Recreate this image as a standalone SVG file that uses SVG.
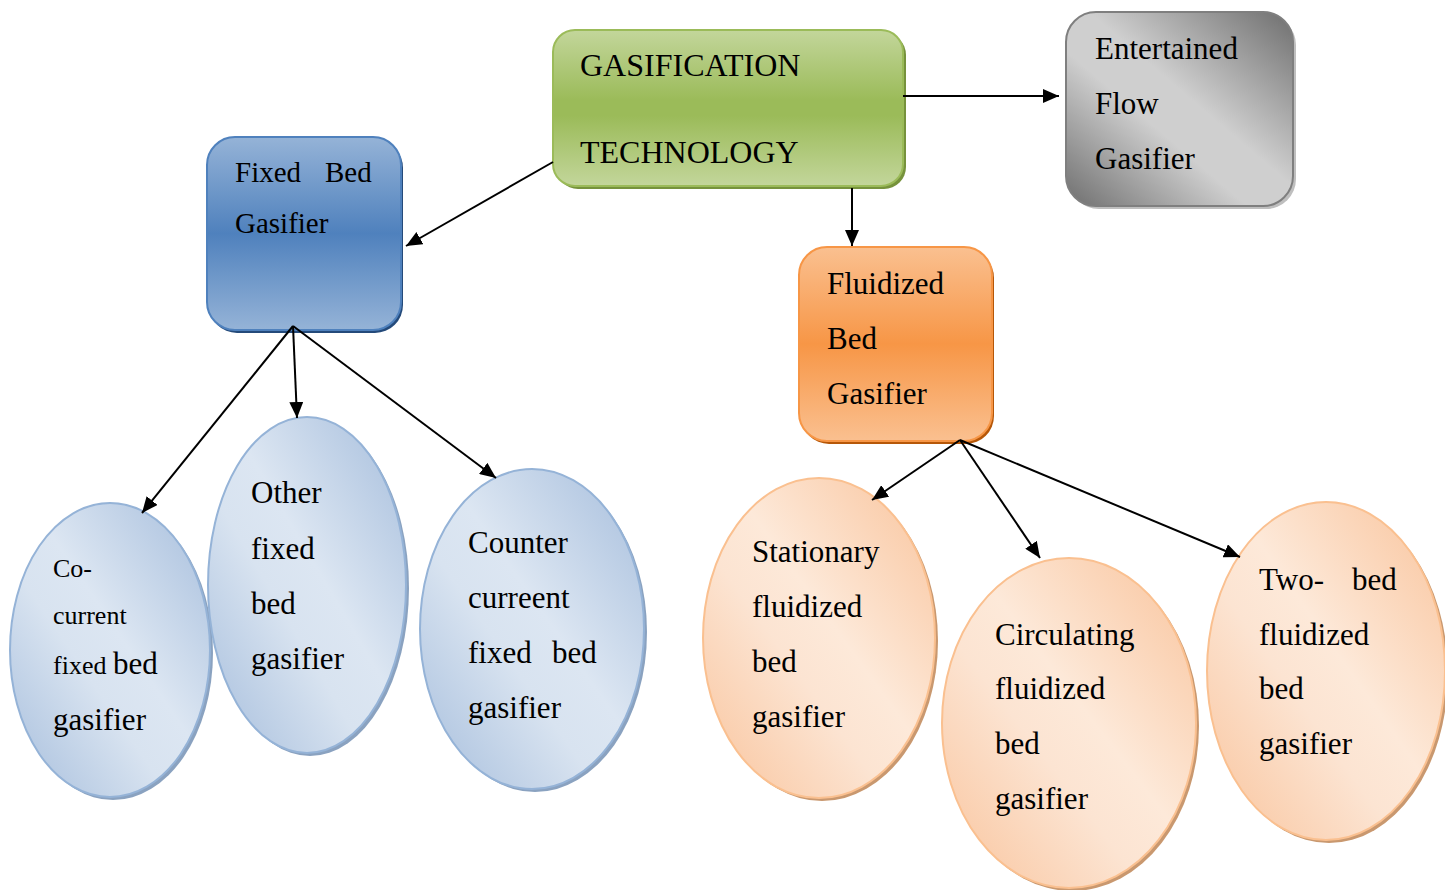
<svg xmlns="http://www.w3.org/2000/svg" width="1445" height="890" viewBox="0 0 1445 890">
<defs>
<style>
text{font-family:"Liberation Serif","Times New Roman",serif;fill:#000;}
.t31{font-size:31px;}
.t32{font-size:32px;}
.t29{font-size:29px;}
.t26{font-size:26px;}
.conn line{stroke:#000;stroke-width:2;marker-end:url(#ah);}
.eb{stroke:#95b3d7;stroke-width:2;fill:url(#gBlueE);}
.eo{stroke:#fac090;stroke-width:2;fill:url(#gOrE);}
.esb{fill:#8aa2c0;}
.eso{fill:#c9986f;}
</style>
<marker id="ah" markerUnits="userSpaceOnUse" markerWidth="18" markerHeight="14" refX="16" refY="7" orient="auto">
<path d="M0,0 L16,7 L0,14 z" fill="#000"/>
</marker>
<linearGradient id="gGreen" x1="0" y1="0" x2="0" y2="1">
<stop offset="0" stop-color="#c3d69b"/>
<stop offset="0.45" stop-color="#9bbb59"/>
<stop offset="0.55" stop-color="#9bbb59"/>
<stop offset="1" stop-color="#c3d69b"/>
</linearGradient>
<linearGradient id="gBlue" x1="0" y1="0" x2="0" y2="1">
<stop offset="0" stop-color="#95b3d7"/>
<stop offset="0.5" stop-color="#4f81bd"/>
<stop offset="1" stop-color="#95b3d7"/>
</linearGradient>
<linearGradient id="gOrange" x1="0" y1="0" x2="0" y2="1">
<stop offset="0" stop-color="#fac090"/>
<stop offset="0.5" stop-color="#f79646"/>
<stop offset="1" stop-color="#fac090"/>
</linearGradient>
<linearGradient id="gGray" x1="1" y1="0" x2="0" y2="1">
<stop offset="0" stop-color="#6e6e6e"/>
<stop offset="0.45" stop-color="#cfcfcf"/>
<stop offset="0.6" stop-color="#cfcfcf"/>
<stop offset="1" stop-color="#6e6e6e"/>
</linearGradient>
<linearGradient id="gBlueE" x1="1" y1="0" x2="0" y2="1">
<stop offset="0" stop-color="#a5bddc"/>
<stop offset="0.45" stop-color="#dce6f2"/>
<stop offset="0.6" stop-color="#d8e3f0"/>
<stop offset="1" stop-color="#a5bddc"/>
</linearGradient>
<linearGradient id="gOrE" x1="1" y1="0" x2="0" y2="1">
<stop offset="0" stop-color="#f9c39b"/>
<stop offset="0.45" stop-color="#fde9d9"/>
<stop offset="0.6" stop-color="#fce4d2"/>
<stop offset="1" stop-color="#f9c39b"/>
</linearGradient>
</defs>

<g id="gasification">
<rect x="556" y="33" width="350" height="156" rx="22" fill="#76923c"/>
<rect x="553" y="30" width="350" height="156" rx="22" fill="url(#gGreen)" stroke="#9bbb59" stroke-width="2"/>
<text class="t32" x="580" y="76">GASIFICATION</text>
<text class="t32" x="580" y="163">TECHNOLOGY</text>
</g>

<g id="entrained">
<rect x="1069" y="15" width="227" height="194" rx="30" fill="#bfbfbf"/>
<rect x="1066" y="12" width="227" height="194" rx="30" fill="url(#gGray)" stroke="#7f7f7f" stroke-width="2"/>
<text class="t31" x="1095" y="59">Entertained</text>
<text class="t31" x="1095" y="114">Flow</text>
<text class="t31" x="1095" y="169">Gasifier</text>
</g>

<g id="fixedbed">
<rect x="209" y="140" width="194" height="193" rx="28" fill="#244a7a"/>
<rect x="207" y="137" width="194" height="193" rx="28" fill="url(#gBlue)" stroke="#4f81bd" stroke-width="2"/>
<text class="t29" x="235" y="182">Fixed <tspan x="325">Bed</tspan></text>
<text class="t29" x="235" y="233">Gasifier</text>
</g>

<g id="fluidized">
<rect x="801" y="250" width="193" height="194" rx="28" fill="#b65708"/>
<rect x="799" y="247" width="193" height="194" rx="28" fill="url(#gOrange)" stroke="#f79646" stroke-width="2"/>
<text class="t31" x="827" y="294">Fluidized</text>
<text class="t31" x="827" y="349">Bed</text>
<text class="t31" x="827" y="404">Gasifier</text>
</g>

<g id="cocurrent">
<ellipse class="esb" cx="113" cy="653" rx="100" ry="147"/>
<ellipse class="eb" cx="110" cy="650" rx="100" ry="147"/>
<text class="t26" x="53" y="577">Co-</text>
<text class="t26" x="53" y="624">current</text>
<text x="53" y="674"><tspan class="t26">fixed </tspan><tspan class="t31">bed</tspan></text>
<text class="t31" x="53" y="730">gasifier</text>
</g>

<g id="otherfixed">
<ellipse class="esb" cx="310" cy="588" rx="99" ry="168"/>
<ellipse class="eb" cx="307" cy="585" rx="99" ry="168"/>
<text class="t31" x="251" y="503">Other</text>
<text class="t31" x="251" y="559">fixed</text>
<text class="t31" x="251" y="614">bed</text>
<text class="t31" x="251" y="669">gasifier</text>
</g>

<g id="counter">
<ellipse class="esb" cx="535" cy="632" rx="112" ry="160"/>
<ellipse class="eb" cx="532" cy="629" rx="112" ry="160"/>
<text class="t31" x="468" y="553">Counter</text>
<text class="t31" x="468" y="608">curreent</text>
<text class="t31" x="468" y="663">fixed <tspan x="552">bed</tspan></text>
<text class="t31" x="468" y="718">gasifier</text>
</g>

<g id="stationary">
<ellipse class="eso" cx="822" cy="641" rx="116" ry="160"/>
<ellipse class="eo" cx="819" cy="638" rx="116" ry="160"/>
<text class="t31" x="752" y="562">Stationary</text>
<text class="t31" x="752" y="617">fluidized</text>
<text class="t31" x="752" y="672">bed</text>
<text class="t31" x="752" y="727">gasifier</text>
</g>

<g id="circulating">
<ellipse class="eso" cx="1072" cy="726" rx="127" ry="165"/>
<ellipse class="eo" cx="1069" cy="723" rx="127" ry="165"/>
<text class="t31" x="995" y="645">Circulating</text>
<text class="t31" x="995" y="699">fluidized</text>
<text class="t31" x="995" y="754">bed</text>
<text class="t31" x="995" y="809">gasifier</text>
</g>

<g id="twobed">
<ellipse class="eso" cx="1329" cy="674" rx="119" ry="169"/>
<ellipse class="eo" cx="1326" cy="671" rx="119" ry="169"/>
<text class="t31" x="1259" y="590">Two- <tspan x="1352">bed</tspan></text>
<text class="t31" x="1259" y="645">fluidized</text>
<text class="t31" x="1259" y="699">bed</text>
<text class="t31" x="1259" y="754">gasifier</text>
</g>

<g id="conns" class="conn">
<line x1="553" y1="162" x2="406" y2="246"/>
<line x1="903" y1="96" x2="1059" y2="96"/>
<line x1="852" y1="188" x2="852" y2="246"/>
<line x1="293" y1="326" x2="142" y2="513"/>
<line x1="293" y1="326" x2="297" y2="418"/>
<line x1="293" y1="326" x2="496" y2="478"/>
<line x1="960" y1="440" x2="872" y2="500"/>
<line x1="960" y1="440" x2="1040" y2="558"/>
<line x1="960" y1="440" x2="1240" y2="557"/>
</g>
</svg>
